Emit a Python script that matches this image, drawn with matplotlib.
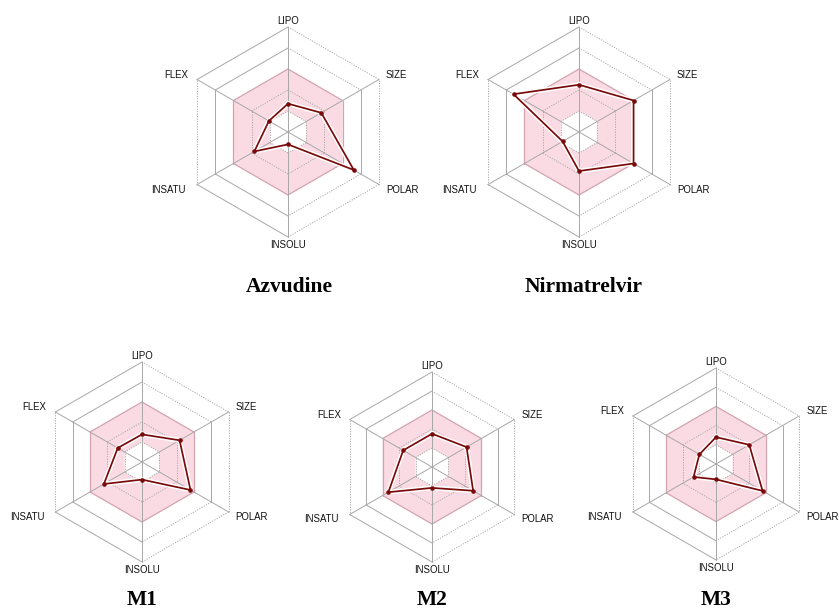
import numpy as np
import matplotlib
matplotlib.use("Agg")
import matplotlib.pyplot as plt
import matplotlib.patheffects as pe
from matplotlib.path import Path
from matplotlib.patches import PathPatch

# Bioavailability radar: six physicochemical properties, scored 0-5 along each spoke
properties = ["LIPO", "SIZE", "POLAR", "INSOLU", "INSATU", "FLEX"]
compounds = ["Azvudine", "Nirmatrelvir", "M1", "M2", "M3"]

azvudine = [1.35, 1.83, 3.62, 0.59, 1.85, 1.05]
nirmatrelvir = [2.25, 3.00, 3.00, 1.86, 0.90, 3.60]
m1 = [1.38, 2.17, 2.80, 0.88, 2.20, 1.40]
m2 = [1.75, 2.10, 2.50, 1.10, 2.65, 1.75]
m3 = [1.40, 2.00, 2.80, 0.80, 1.35, 1.00]
scores = [azvudine, nirmatrelvir, m1, m2, m3]

# optimal range shaded in pink
range_low, range_high = 1, 3
ring_levels = [1, 2, 3, 4, 5]

W, H = 839, 610
# panel placement in pixels: centre x, centre y, outer radius, title x, title baseline y
layout = [
    (288, 132, 105, 289, 292),
    (579, 132, 105, 584, 292),
    (142, 462, 100, 142, 605),
    (432, 467, 95, 432, 605),
    (716, 464, 96, 716, 605),
]

GRID = "#a8a8a8"
PINK = "#fadbe3"
PINK_EDGE = "#d3a3b0"
LINE = "#7a0a0a"

theta = np.deg2rad(90 - 60 * np.arange(6))
ux, uy = np.cos(theta), np.sin(theta)

# per-edge style of the outer two rings (edge k joins spoke k and k+1)
edge_styles = {
    4: ["dot", "solid", "dot", "solid", "solid", "solid"],
    5: ["dot", "dot", "dot", "solid", "dot", "solid"],
}

# label offsets in pixels relative to the outer vertex
label_place = [
    (0, 6, "center"),
    (7, 5, "left"),
    (7, -5, "left"),
    (0, -8, "center"),
    (-11, -5, "right"),
    (-9, 5, "right"),
]

fig = plt.figure(figsize=(W / 100, H / 100), dpi=100)
fig.patch.set_facecolor("white")
PT = 0.72  # points per pixel at 100 dpi

for name, vals, (cx, cy, R, tx, ty) in zip(compounds, scores, layout):
    half = R * 6 / 5
    ax = fig.add_axes([(cx - half) / W, 1 - (cy + half) / H, 2 * half / W, 2 * half / H])
    ax.set_xlim(-6, 6)
    ax.set_ylim(-6, 6)
    ax.axis("off")

    # pink band between the low and high limits
    outer = np.column_stack([range_high * ux, range_high * uy])
    inner = np.column_stack([range_low * ux, range_low * uy])[::-1]
    verts = np.vstack([outer, outer[:1], inner, inner[:1]])
    codes = ([Path.MOVETO] + [Path.LINETO] * 5 + [Path.CLOSEPOLY]) * 2
    ax.add_patch(PathPatch(Path(verts, codes), facecolor=PINK, edgecolor="none", zorder=1))

    # rings
    for lvl in ring_levels:
        for k in range(6):
            j = (k + 1) % 6
            xs = [lvl * ux[k], lvl * ux[j]]
            ys = [lvl * uy[k], lvl * uy[j]]
            if lvl == range_high:
                ax.plot(xs, ys, color=PINK_EDGE, lw=0.9, zorder=2, solid_capstyle="round")
                continue
            style = edge_styles.get(lvl, ["dot"] * 6)[k]
            if style == "solid":
                ax.plot(xs, ys, color=GRID, lw=0.7, zorder=2)
            else:
                ax.plot(xs, ys, color=GRID, lw=0.7, ls=(0, (1.2, 1.4)), zorder=2)

    # spokes
    for k in range(6):
        ax.plot([0, 5 * ux[k]], [0, 5 * uy[k]], color=GRID, lw=0.7, zorder=2)

    # property profile
    v = np.asarray(vals)
    px = np.append(v * ux, v[0] * ux[0])
    py = np.append(v * uy, v[0] * uy[0])
    ax.plot(px, py, color=LINE, lw=1.25, zorder=4, solid_joinstyle="round",
            path_effects=[pe.Stroke(linewidth=3.4, foreground="white"), pe.Normal()])
    ax.plot(v * ux, v * uy, "o", color=LINE, ms=2.3, zorder=5)

    # property names
    for k, (dx, dy, ha) in enumerate(label_place):
        ax.annotate(properties[k], xy=(5 * ux[k], 5 * uy[k]), xytext=(dx * PT, dy * PT),
                    textcoords="offset points", ha=ha, va="center",
                    fontsize=6.9, family="Liberation Sans", color="#111111",
                    annotation_clip=False)

    fig.text(tx / W, 1 - ty / H, name, ha="center", va="baseline",
             family="Liberation Serif", fontweight="bold", fontsize=15.5)

fig.savefig("out.png", dpi=100, facecolor="white")
